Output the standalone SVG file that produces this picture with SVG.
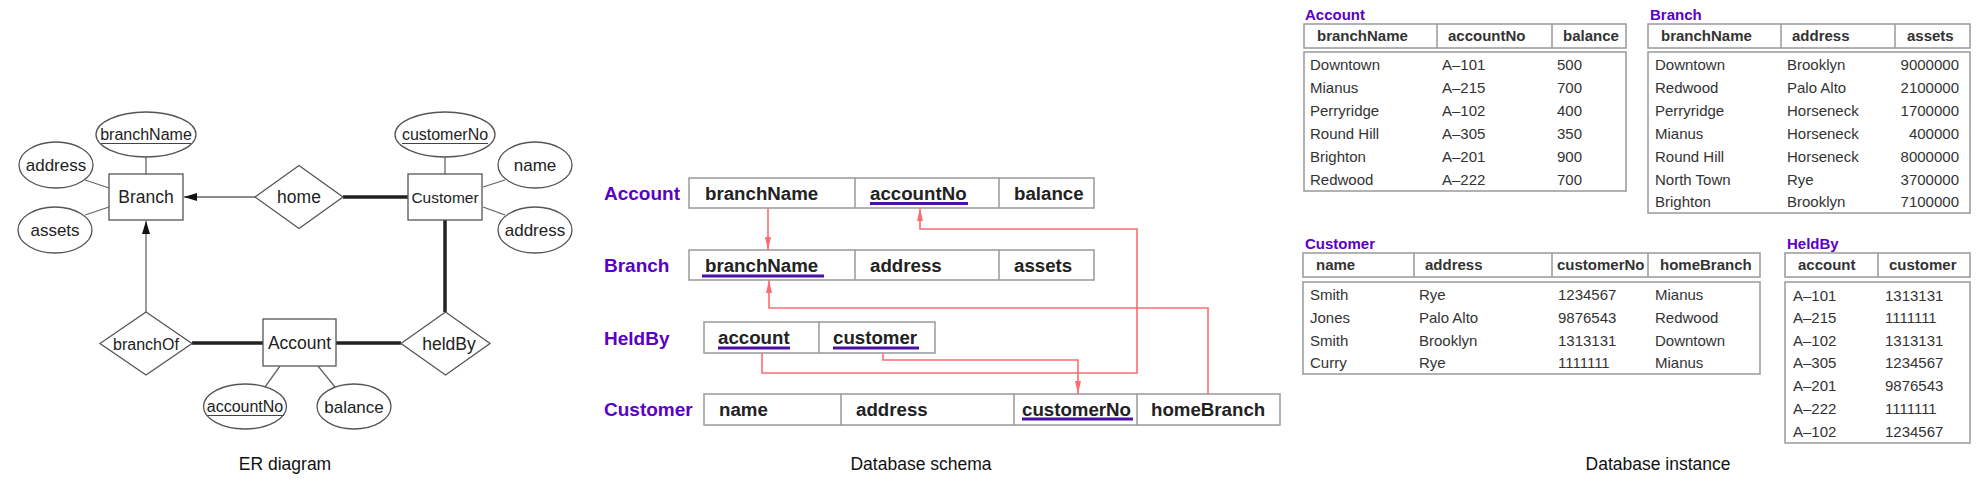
<svg xmlns="http://www.w3.org/2000/svg" width="1976" height="500" viewBox="0 0 1976 500">
<defs>
<style>
.bg{fill:#fff}
.ent{fill:#fff;stroke:#555;stroke-width:1.3}
.ln{fill:none;stroke:#666;stroke-width:1.3}
.thk{fill:none;stroke:#222;stroke-width:3.5}
.t{font-family:"Liberation Sans",Arial,sans-serif;fill:#222;text-anchor:middle}
.cap{font-family:"Liberation Sans",Arial,sans-serif;fill:#111;font-size:17.5px;text-anchor:middle}
.ul{stroke:#444;stroke-width:1}
.sbox{fill:#fff;stroke:#999;stroke-width:1.5}
.sdiv{stroke:#999;stroke-width:1.5}
.st{font-family:"Liberation Sans",Arial,sans-serif;font-weight:bold;font-size:18.7px;fill:#222}
.sl{font-family:"Liberation Sans",Arial,sans-serif;font-weight:bold;font-size:19px;fill:#5a00c8}
.sul{stroke:#4a10a8;stroke-width:3}
.red{fill:none;stroke:#ff6b72;stroke-width:1.6}
.tbox{fill:#fff;stroke:#999;stroke-width:1.5}
.tt{font-family:"Liberation Sans",Arial,sans-serif;font-weight:bold;font-size:15px;fill:#5a00c8}
.th{font-family:"Liberation Sans",Arial,sans-serif;font-weight:bold;font-size:15px;fill:#333}
.td{font-family:"Liberation Sans",Arial,sans-serif;font-size:15px;fill:#333}
</style>
<marker id="ra" viewBox="0 0 13 6" refX="13" refY="3" markerWidth="13" markerHeight="6" markerUnits="userSpaceOnUse" orient="auto">
<path d="M0,0 L13,3 L0,6 z" fill="#ff6b72"/>
</marker>
<marker id="ba" viewBox="0 0 13 8" refX="13" refY="4" markerWidth="13" markerHeight="8" markerUnits="userSpaceOnUse" orient="auto">
<path d="M0,0 L13,4 L0,8 z" fill="#111"/>
</marker>
</defs>
<rect class="bg" x="0" y="0" width="1976" height="500"/>

<!-- ER diagram connectors -->
<g id="er-connectors">
<line class="ln" x1="146" y1="157" x2="146" y2="174"/>
<line class="ln" x1="85" y1="180" x2="109" y2="188"/>
<line class="ln" x1="85" y1="215" x2="109" y2="207"/>
<line class="ln" x1="255" y1="197" x2="184" y2="197" marker-end="url(#ba)"/>
<line class="thk" x1="343" y1="197" x2="408" y2="197"/>
<line class="ln" x1="445" y1="157" x2="445" y2="174"/>
<line class="ln" x1="483" y1="187" x2="505" y2="180"/>
<line class="ln" x1="483" y1="207" x2="505" y2="215"/>
<line class="thk" x1="445" y1="220" x2="445" y2="312"/>
<line class="thk" x1="336" y1="343" x2="401" y2="343"/>
<line class="thk" x1="192" y1="343" x2="263" y2="343"/>
<line class="ln" x1="146" y1="312" x2="146" y2="221" marker-end="url(#ba)"/>
<line class="ln" x1="280" y1="366" x2="265" y2="387"/>
<line class="ln" x1="318" y1="366" x2="335" y2="387"/>
</g>

<!-- ER nodes -->
<g id="er-branch"><rect class="ent" x="109" y="174" width="74" height="46"/><text class="t" x="146" y="203" font-size="17.5">Branch</text></g>
<g id="er-customer"><rect class="ent" x="408" y="174" width="74" height="46"/><text class="t" x="445" y="202.5" font-size="15.5">Customer</text></g>
<g id="er-account"><rect class="ent" x="263" y="319" width="73" height="47"/><text class="t" x="299.5" y="349" font-size="17.5">Account</text></g>
<g id="er-home"><polygon class="ent" points="255,197 299,165.5 343,197 299,228.5"/><text class="t" x="299" y="203" font-size="17.5">home</text></g>
<g id="er-branchof"><polygon class="ent" points="100,343.5 146,312 192,343.5 146,375"/><text class="t" x="146" y="349.5" font-size="16">branchOf</text></g>
<g id="er-heldby"><polygon class="ent" points="401,343.5 445.5,312 490,343.5 445.5,375"/><text class="t" x="449" y="349.5" font-size="17.5">heldBy</text></g>
<g id="er-branchname"><ellipse class="ent" cx="146" cy="134.5" rx="50" ry="22.5"/><text class="t" x="146" y="140" font-size="16">branchName</text><line class="ul" x1="101" y1="143.5" x2="191" y2="143.5"/></g>
<g id="er-baddress"><ellipse class="ent" cx="56" cy="165" rx="37" ry="23"/><text class="t" x="56" y="171" font-size="17">address</text></g>
<g id="er-assets"><ellipse class="ent" cx="55" cy="230" rx="37" ry="23"/><text class="t" x="55" y="236" font-size="17">assets</text></g>
<g id="er-customerno"><ellipse class="ent" cx="445" cy="134.5" rx="50" ry="22.5"/><text class="t" x="445" y="140" font-size="16">customerNo</text><line class="ul" x1="402" y1="143.5" x2="488" y2="143.5"/></g>
<g id="er-name"><ellipse class="ent" cx="535" cy="165" rx="37" ry="23"/><text class="t" x="535" y="171" font-size="17">name</text></g>
<g id="er-caddress"><ellipse class="ent" cx="535" cy="230" rx="37" ry="23"/><text class="t" x="535" y="236" font-size="17">address</text></g>
<g id="er-accountno"><ellipse class="ent" cx="245" cy="406.5" rx="41.5" ry="22.5"/><text class="t" x="245" y="412" font-size="16">accountNo</text><line class="ul" x1="207" y1="415.5" x2="284" y2="415.5"/></g>
<g id="er-balance"><ellipse class="ent" cx="354" cy="406.5" rx="37" ry="22.5"/><text class="t" x="354" y="412.5" font-size="17">balance</text></g>
<text class="cap" x="285" y="470">ER diagram</text>

<!-- Database schema -->
<g id="schema-account">
<text class="sl" x="604" y="200">Account</text>
<rect class="sbox" x="689" y="178" width="405" height="30"/>
<line class="sdiv" x1="855" y1="178" x2="855" y2="208"/><line class="sdiv" x1="999" y1="178" x2="999" y2="208"/>
<text class="st" x="705" y="200">branchName</text>
<text class="st" x="870" y="200">accountNo</text><line class="sul" x1="870" y1="203.5" x2="968" y2="203.5"/>
<text class="st" x="1014" y="200">balance</text>
</g>
<g id="schema-branch">
<text class="sl" x="604" y="272">Branch</text>
<rect class="sbox" x="689" y="250" width="405" height="30"/>
<line class="sdiv" x1="855" y1="250" x2="855" y2="280"/><line class="sdiv" x1="999" y1="250" x2="999" y2="280"/>
<text class="st" x="705" y="272">branchName</text><line class="sul" x1="702" y1="276" x2="824" y2="276"/>
<text class="st" x="870" y="272">address</text>
<text class="st" x="1014" y="272">assets</text>
</g>
<g id="schema-heldby">
<text class="sl" x="604" y="344.5">HeldBy</text>
<rect class="sbox" x="704" y="322" width="231" height="31"/>
<line class="sdiv" x1="819" y1="322" x2="819" y2="353"/>
<text class="st" x="718" y="344">account</text><line class="sul" x1="718" y1="348" x2="790" y2="348"/>
<text class="st" x="833" y="344">customer</text><line class="sul" x1="833" y1="348" x2="919" y2="348"/>
</g>
<g id="schema-customer">
<text class="sl" x="604" y="416">Customer</text>
<rect class="sbox" x="704" y="394" width="576" height="31"/>
<line class="sdiv" x1="841" y1="394" x2="841" y2="425"/><line class="sdiv" x1="1014" y1="394" x2="1014" y2="425"/><line class="sdiv" x1="1137" y1="394" x2="1137" y2="425"/>
<text class="st" x="719" y="416">name</text>
<text class="st" x="856" y="416">address</text>
<text class="st" x="1022" y="416">customerNo</text><line class="sul" x1="1022" y1="419" x2="1133" y2="419"/>
<text class="st" x="1151" y="416">homeBranch</text>
</g>
<g id="schema-connectors">
<path class="red" d="M768,208 V250" marker-end="url(#ra)"/>
<path class="red" d="M762,353 V373 H1137 V229 H920 V208" marker-end="url(#ra)"/>
<path class="red" d="M883,353 V360 H1078 V394" marker-end="url(#ra)"/>
<path class="red" d="M1208,394 V308 H769 V280" marker-end="url(#ra)"/>
</g>
<text class="cap" x="921" y="470">Database schema</text>

<!-- Database instance -->
<g id="inst-account">
<text class="tt" x="1305" y="19.5">Account</text>
<rect class="tbox" x="1304" y="24" width="322" height="24"/>
<line class="sdiv" x1="1437" y1="24" x2="1437" y2="48"/><line class="sdiv" x1="1552" y1="24" x2="1552" y2="48"/>
<text class="th" x="1317" y="41">branchName</text><text class="th" x="1448" y="41">accountNo</text><text class="th" x="1563" y="41">balance</text>
<rect class="tbox" x="1304" y="52" width="322" height="139"/>
<g class="td">
<text x="1310" y="70">Downtown</text><text x="1442" y="70">A–101</text><text x="1557" y="70">500</text>
<text x="1310" y="93">Mianus</text><text x="1442" y="93">A–215</text><text x="1557" y="93">700</text>
<text x="1310" y="116">Perryridge</text><text x="1442" y="116">A–102</text><text x="1557" y="116">400</text>
<text x="1310" y="139">Round Hill</text><text x="1442" y="139">A–305</text><text x="1557" y="139">350</text>
<text x="1310" y="162">Brighton</text><text x="1442" y="162">A–201</text><text x="1557" y="162">900</text>
<text x="1310" y="185">Redwood</text><text x="1442" y="185">A–222</text><text x="1557" y="185">700</text>
</g>
</g>
<g id="inst-branch">
<text class="tt" x="1650" y="19.5">Branch</text>
<rect class="tbox" x="1648" y="24" width="322" height="24"/>
<line class="sdiv" x1="1781" y1="24" x2="1781" y2="48"/><line class="sdiv" x1="1895" y1="24" x2="1895" y2="48"/>
<text class="th" x="1661" y="41">branchName</text><text class="th" x="1792" y="41">address</text><text class="th" x="1907" y="41">assets</text>
<rect class="tbox" x="1648" y="52" width="322" height="161"/>
<g class="td">
<text x="1655" y="70">Downtown</text><text x="1787" y="70">Brooklyn</text><text x="1959" y="70" text-anchor="end">9000000</text>
<text x="1655" y="93">Redwood</text><text x="1787" y="93">Palo Alto</text><text x="1959" y="93" text-anchor="end">2100000</text>
<text x="1655" y="116">Perryridge</text><text x="1787" y="116">Horseneck</text><text x="1959" y="116" text-anchor="end">1700000</text>
<text x="1655" y="139">Mianus</text><text x="1787" y="139">Horseneck</text><text x="1959" y="139" text-anchor="end">400000</text>
<text x="1655" y="162">Round Hill</text><text x="1787" y="162">Horseneck</text><text x="1959" y="162" text-anchor="end">8000000</text>
<text x="1655" y="185">North Town</text><text x="1787" y="185">Rye</text><text x="1959" y="185" text-anchor="end">3700000</text>
<text x="1655" y="207">Brighton</text><text x="1787" y="207">Brooklyn</text><text x="1959" y="207" text-anchor="end">7100000</text>
</g>
</g>
<g id="inst-customer">
<text class="tt" x="1305" y="248.5">Customer</text>
<rect class="tbox" x="1303" y="253" width="457" height="24"/>
<line class="sdiv" x1="1414" y1="253" x2="1414" y2="277"/><line class="sdiv" x1="1552" y1="253" x2="1552" y2="277"/><line class="sdiv" x1="1648" y1="253" x2="1648" y2="277"/>
<text class="th" x="1316" y="270">name</text><text class="th" x="1425" y="270">address</text><text class="th" x="1557" y="270">customerNo</text><text class="th" x="1660" y="270">homeBranch</text>
<rect class="tbox" x="1303" y="282" width="457" height="92"/>
<g class="td">
<text x="1310" y="300">Smith</text><text x="1419" y="300">Rye</text><text x="1558" y="300">1234567</text><text x="1655" y="300">Mianus</text>
<text x="1310" y="323">Jones</text><text x="1419" y="323">Palo Alto</text><text x="1558" y="323">9876543</text><text x="1655" y="323">Redwood</text>
<text x="1310" y="346">Smith</text><text x="1419" y="346">Brooklyn</text><text x="1558" y="346">1313131</text><text x="1655" y="346">Downtown</text>
<text x="1310" y="368">Curry</text><text x="1419" y="368">Rye</text><text x="1558" y="368">1111111</text><text x="1655" y="368">Mianus</text>
</g>
</g>
<g id="inst-heldby">
<text class="tt" x="1787" y="248.5">HeldBy</text>
<rect class="tbox" x="1785" y="253" width="185" height="24"/>
<line class="sdiv" x1="1878" y1="253" x2="1878" y2="277"/>
<text class="th" x="1798" y="270">account</text><text class="th" x="1889" y="270">customer</text>
<rect class="tbox" x="1785" y="282" width="185" height="161"/>
<g class="td">
<text x="1793" y="301">A–101</text><text x="1885" y="301">1313131</text>
<text x="1793" y="323">A–215</text><text x="1885" y="323">1111111</text>
<text x="1793" y="346">A–102</text><text x="1885" y="346">1313131</text>
<text x="1793" y="368">A–305</text><text x="1885" y="368">1234567</text>
<text x="1793" y="391">A–201</text><text x="1885" y="391">9876543</text>
<text x="1793" y="414">A–222</text><text x="1885" y="414">1111111</text>
<text x="1793" y="437">A–102</text><text x="1885" y="437">1234567</text>
</g>
</g>
<text class="cap" x="1658" y="470">Database instance</text>
</svg>
